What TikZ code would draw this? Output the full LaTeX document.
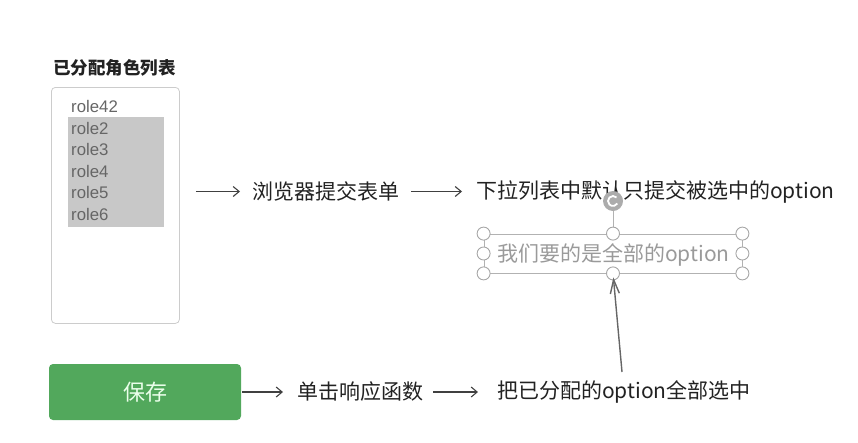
\documentclass[tikz,border=0pt]{standalone}
\usepackage{fontspec}
\setmainfont{Noto Sans CJK SC}
\newfontfamily\rolefont{Liberation Sans}
\usetikzlibrary{arrows.meta}

\definecolor{txtdark}{HTML}{222222}
\definecolor{rolegray}{HTML}{666666}
\definecolor{selgray}{HTML}{C8C8C8}
\definecolor{boxtext}{HTML}{9A9A9A}
\definecolor{savegreen}{HTML}{52A85C}

\tikzset{
  flow/.style={-{Straight Barb[length=6pt,width=10pt]}, line width=1.1pt, draw=black!75},
  lbl/.style={anchor=west, inner sep=0pt, text=txtdark, font=\fontsize{21}{24}\selectfont},
  role/.style={anchor=base west, inner sep=0pt, text=rolegray, font=\rolefont\fontsize{16.8}{18}\selectfont},
  handle/.style={circle, draw=gray!70, fill=white, line width=0.9pt, minimum size=13pt, inner sep=0pt}
}

\begin{document}
\begin{tikzpicture}[x=1pt,y=-1pt]
        \useasboundingbox (0,0) rectangle (858,442);

        % Title and list box
        \node[anchor=west, inner sep=0pt, text=txtdark, font=\bfseries\fontsize{17.5}{20}\selectfont] (title) at (53,68) {已分配角色列表};
        \node[draw=gray!40, line width=0.8pt, rounded corners=4pt, minimum width=128pt, minimum height=236pt, anchor=north west] (list) at (51,87) {};

        % Selected options
        \fill[selgray] (68,117) rectangle (164,227);
        \node[role] (r0) at (71,112) {role42};
        \foreach \r [count=\i] in {role2,role3,role4,role5,role6}
            \node[role] (r\i) at (71,112.5+\i*21.5) {\r};

        % Upper row
        \node[lbl] (submit) at (252,191.5) {浏览器提交表单};
        \node[lbl] (only) at (476,191.5) {下拉列表中默认只提交被选中的option};
        \draw[flow, shorten <=16pt, shorten >=12pt] (list.east |- submit.west) -- (submit.west);
        \draw[flow, shorten <=12pt, shorten >=14pt] (submit.east) -- (only.west);

        % Text box with its handles
        \node[draw=gray!60, line width=0.8pt, minimum width=258pt, minimum height=39pt, inner sep=0pt] (box) at (613,253.5) {};
        \node[lbl, text=boxtext] (want) at (497,255) {我们要的是全部的option};
        \node[circle, fill=gray!65, minimum size=20pt, inner sep=0pt] (rot) at (613,201) {};
        \draw[gray!60, line width=0.8pt] (rot) -- (box.north);
        \draw[white, line width=1.8pt] ([shift={(45:5pt)}]rot.center) arc[start angle=45, end angle=330, radius=5pt];
        \foreach \p in {north west, north, north east, west, east, south west, south, south east}
            \node[handle] at (box.\p) {};

        % Lower row
        \node[fill=savegreen, rounded corners=4pt, minimum width=192pt, minimum height=56pt, text=green!8, font=\fontsize{22}{24}\selectfont] (save) at (145,392) {保存};
        \node[lbl] (click) at (297,392) {单击响应函数};
        \node[lbl] (selall) at (497,392) {把已分配的option全部选中};
        \draw[flow, shorten <=1pt, shorten >=14pt] (save.east) -- (click.west);
        \draw[flow, shorten <=10pt, shorten >=19pt] (click.east) -- (selall.west);

        % Pointer up to the text box
        \coordinate (tail) at (622,372);
        \draw[flow, -{Straight Barb[length=14pt,width=9pt]}, line width=1.4pt, draw=black!60, shorten >=4pt] (tail) -- (box.south);
    \end{tikzpicture}
\end{document}
